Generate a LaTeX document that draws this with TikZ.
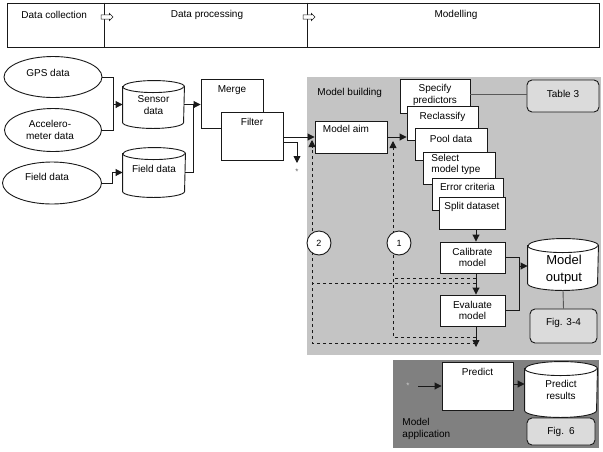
\documentclass[tikz,border=0pt]{standalone}
\usepackage{fontspec}
\setmainfont{Liberation Sans}
\usetikzlibrary{arrows.meta,shapes.geometric,shapes.arrows}
\definecolor{mbgray}{gray}{0.77}
\definecolor{magray}{gray}{0.50}
\definecolor{refgray}{gray}{0.86}
\definecolor{linec}{gray}{0.10}
\newcommand{\cylshape}[5]{%
  \node[inner sep=0pt, minimum width=#3pt, minimum height=#4pt] (#1) at (#2) {};
  \draw[fill=white] ([yshift=-#5pt]#1.north west) -- ([yshift=#5pt]#1.south west)
     arc[start angle=180, end angle=360, x radius=#3pt/2, y radius=#5pt]
     -- ([yshift=-#5pt]#1.north east)
     arc[start angle=0, end angle=180, x radius=#3pt/2, y radius=#5pt] -- cycle;
  \draw ([yshift=-#5pt]#1.north west) arc[start angle=180, end angle=360, x radius=#3pt/2, y radius=#5pt];
}
\begin{document}
\begin{tikzpicture}[x=1pt,y=-1pt,line width=0.9pt,draw=linec,
  every node/.style={font=\fontsize{10}{11.5}\selectfont, text=black},
  box/.style={draw,fill=white,inner sep=0pt},
  rbox/.style={draw,fill=refgray,rounded corners=5pt,inner sep=0pt},
  oval/.style={draw,ellipse,inner sep=0pt},
  arr/.style={-{Triangle[length=7pt,width=7pt]}},
  dsh/.style={dash pattern=on 3.5pt off 2.5pt},
  blockarrow/.style={single arrow,draw,fill=white,minimum height=12pt,inner sep=1.8pt,single arrow head extend=1.5pt,line width=0.6pt},
  num/.style={draw,circle,fill=white,minimum size=24pt,inner sep=0pt,font=\fontsize{9}{10}\selectfont},
  startxt/.style={inner sep=0pt,text=gray!80!black,font=\fontsize{8}{9}\selectfont},
  txt/.style={inner sep=0pt,align=center}]
\useasboundingbox (0,0) rectangle (603,451);
\fill[white] (0,0) rectangle (603,451);

% top bar
\node[draw,minimum width=592pt,minimum height=44pt,inner sep=0pt] (bar) at (303,25) {};
\coordinate (d1) at (104,25);
\coordinate (d2) at (307,25);
\draw (d1 |- bar.north) -- (d1 |- bar.south);
\draw (d2 |- bar.north) -- (d2 |- bar.south);
\node[blockarrow] (ba1) at (106,17) {};
\node[blockarrow] (ba2) at (308,17) {};
\node[txt,anchor=west] (tdc) at (21,15) {Data collection};
\node[txt] (tdp) at (207,15) {Data processing};
\node[txt] (tmo) at (456,15) {Modelling};

% data collection
\node[oval,minimum width=98pt,minimum height=41pt] (gps) at (53,77) {};
\node[txt] (gpst) at (48,73) {GPS data};
\node[oval,minimum width=97pt,minimum height=43pt] (acc) at (53,130) {};
\node[txt] (acct) at (50,130) {Accelero-\\meter data};
\node[oval,minimum width=99pt,minimum height=42pt] (fld) at (52,183) {};
\node[txt] (fldt) at (47,177) {Field data};

\cylshape{sens}{153.5,104.5}{61}{47}{6}
\node[txt] (senst) at (153.5,105) {Sensor\\data};
\cylshape{fcyl}{154,172.5}{62}{49}{6}
\node[txt] (fcylt) at (154,169) {Field data};

\coordinate (j1) at (113,104.5);
\draw (gps.east) -| (j1);
\draw (acc.east) -| (j1);
\draw[arr] (j1) -- (sens.west);
\draw[arr] (fld.east) -- ++(10,0) |- (fcyl.west);

% data processing
\node[box,minimum width=62pt,minimum height=49pt] (merge) at (232,103.5) {};
\node[txt] (merget) at (232,90) {Merge};
\node[box,minimum width=62pt,minimum height=48pt] (filter) at (252,136) {};
\node[txt] (filtert) at (252,122) {Filter};
\coordinate (j2) at (193,104.5);
\draw (fcyl.east) -| (j2);
\draw[arr] (sens.east) -- (sens.east -| merge.west);

% model building area
\fill[mbgray] (307,77) rectangle (601,355);
\node[txt,anchor=west] (mbt) at (317,93) {Model building};

\node[box,minimum width=72pt,minimum height=32pt] (aim) at (351,137) {};
\node[txt] (aimt) at (346,129) {Model aim};
\draw[arr] (filter.east |- aim.west) -- (aim.west);
\coordinate (sb) at (297,142);
\draw[arr] (filter.east |- sb) -- (sb) -- ++(0,21);
\node[startxt] (star1) at (297,172) {*};

\node[box,minimum width=70pt,minimum height=34pt] (spec) at (435,96) {};
\node[txt] (spect) at (435,95) {Specify\\predictors};
\node[box,minimum width=71pt,minimum height=34pt] (recl) at (442.5,123) {};
\node[txt] (reclt) at (442.5,117) {Reclassify};
\node[box,minimum width=72pt,minimum height=32pt] (pool) at (451,144) {};
\node[txt] (poolt) at (451,139) {Pool data};
\node[box,minimum width=72pt,minimum height=32pt] (sel) at (459,168) {};
\node[txt,align=left,anchor=west] (selt) at (431,164.5) {Select\\model type};
\node[box,minimum width=71pt,minimum height=32pt] (err) at (467.5,194) {};
\node[txt] (errt) at (467.5,187) {Error criteria};
\node[box,minimum width=66pt,minimum height=32pt] (split) at (472,213) {};
\node[txt] (splitt) at (472,207) {Split dataset};
\draw[arr] (aim.east) -- (aim.east -| recl.west);

\node[rbox,minimum width=72pt,minimum height=32pt] (tab3) at (563,96) {};
\node[txt] (tab3t) at (563,94) {Table 3};
\draw[gray!70!black] (spec.east |- tab3t) -- (tab3.west |- tab3t);

\node[box,minimum width=65pt,minimum height=31pt,align=center] (cal) at (472.5,257.5) {Calibrate\\model};
\node[box,minimum width=65pt,minimum height=31pt,align=center] (eva) at (472.5,310.5) {Evaluate\\model};
\coordinate (colx) at (476,0);
\draw[arr] (colx |- split.south) -- (colx |- cal.north);
\draw[arr] (colx |- cal.south) -- (colx |- eva.north);
\coordinate (evend) at (476,347);
\draw[arr] (colx |- eva.south) -- (evend);

\cylshape{mout}{563,264.5}{70}{51}{7}
\node[txt,font=\fontsize{13}{17}\selectfont] (moutt) at (564,270) {Model\\output};
\node[rbox,minimum width=67pt,minimum height=34pt] (fig34) at (563.5,326) {};
\node[txt] (fig34t) at (563.5,323) {Fig. 3-4};
\draw[gray!70!black] (mout.south) -- (fig34.north);

\coordinate (j3) at (519,266);
\draw (cal.east) -| (j3);
\draw (eva.east) -| (j3);
\draw[arr] (j3) -- (j3 -| mout.west);

% dashed feedback loops
\draw[dsh] (476,278) -- (393,278);
\draw[dsh,arr] (476,337) -| (393,141);
\draw[dsh] (476,283) -- (312,283);
\draw[dsh,arr] (476,343) -| (312,140);
\node[num] (c1) at (399,243) {1};
\node[num] (c2) at (319,243) {2};

% model application
\fill[magray] (393,360) rectangle (599,448);
\node[box,minimum width=71pt,minimum height=48pt] (pred) at (477.5,386) {};
\node[txt] (predt) at (477.5,372) {Predict};
\node[startxt,text=gray!40] (star2) at (408,386) {*};
\draw[arr] ([xshift=8pt]star2.east) -- (pred.west);
\cylshape{pres}{561,389.5}{72}{55}{7}
\node[txt] (prest) at (561,390) {Predict\\results};
\draw[arr] ([yshift=2pt]pred.east) -- ([yshift=2pt]pred.east -| pres.west);
\node[rbox,minimum width=68pt,minimum height=27pt] (fig6) at (561,431.5) {};
\node[txt] (fig6t) at (561,431.5) {Fig.\enspace 6};
\node[txt,align=left,anchor=north west] (mat) at (402,418) {Model\\application};
\end{tikzpicture}
\end{document}
